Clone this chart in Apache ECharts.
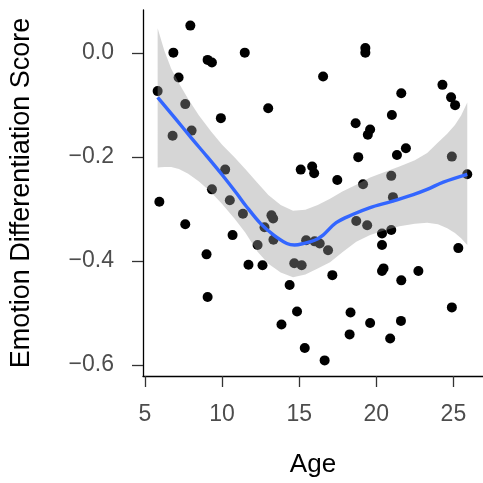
<!DOCTYPE html>
<html><head><meta charset="utf-8">
<script src="https://cdn.jsdelivr.net/npm/echarts@6/dist/echarts.min.js"></script>
<style>html,body{margin:0;padding:0;background:#fff}#c{width:483px;height:483px}</style>
</head><body><div id="c"></div>
<script>
var age = [7.94,6.84,9.06,9.34,11.47,7.18,5.82,7.61,9.92,8.02,6.79,10.2,9.34,5.93,10.5,7.61,11.35,10.68,12.3,8.99,11.71,9.06,
  19.29,19.29,16.55,12.99,18.66,19.6,19.45,18.83,15.1,15.84,15.97,17.47,19.14,21.62,24.29,24.85,25.11,21.01,21.92,21.34,24.9,20.97,25.9,
  21.08,19.41,20.37,20.97,20.37,25.32,20.47,20.37,22.73,21.62,24.9,19.6,21.6,20.9,
  13.2,13.31,12.75,13.33,12.62,14.68,15.16,15.45,16.0,16.33,16.87,18.7,17.15,14.38,14.86,18.33,13.85,18.27,15.36,16.65];
var score = [0.053,0.001,-0.013,-0.018,0.001,-0.047,-0.073,-0.098,-0.125,-0.149,-0.159,-0.224,-0.262,-0.286,-0.283,-0.329,-0.309,-0.350,-0.369,-0.387,-0.407,-0.469,
  0.010,0.001,-0.045,-0.106,-0.135,-0.147,-0.157,-0.200,-0.224,-0.218,-0.231,-0.244,-0.252,-0.077,-0.061,-0.085,-0.100,-0.119,-0.183,-0.196,-0.199,-0.236,-0.233,
  -0.277,-0.331,-0.347,-0.340,-0.369,-0.375,-0.414,-0.419,-0.419,-0.437,-0.489,-0.519,-0.515,-0.549,
  -0.312,-0.318,-0.335,-0.359,-0.408,-0.404,-0.408,-0.360,-0.362,-0.366,-0.379,-0.323,-0.427,-0.446,-0.497,-0.499,-0.522,-0.541,-0.567,-0.591];

var smoothAge = [5.82,7,8,9,10,11,11.5,12.5,13.35,14.2,14.7,15.3,16,16.55,17.4,18.5,19.6,20.9,22.4,23.3,24.35,25.9];
var smoothFit = [-0.085,-0.127,-0.163,-0.198,-0.234,-0.272,-0.292,-0.328,-0.350,-0.366,-0.369,-0.366,-0.360,-0.350,-0.326,-0.310,-0.297,-0.286,-0.272,-0.262,-0.248,-0.233];

var bandAge = [5.82,6.25,6.7,7.2,7.8,8.5,9.3,10.0,10.8,11.5,12.3,13.0,13.8,14.6,15.4,16.2,17.0,17.8,18.7,19.6,20.5,21.5,22.5,23.3,24.0,24.6,25.1,25.5,25.9];
var bandUpper = [0.048,0.005,-0.030,-0.058,-0.088,-0.120,-0.151,-0.176,-0.200,-0.223,-0.250,-0.273,-0.292,-0.303,-0.301,-0.292,-0.280,-0.266,-0.253,-0.239,-0.229,-0.218,-0.206,-0.192,-0.172,-0.155,-0.138,-0.120,-0.095];
var bandLower = [-0.220,-0.219,-0.219,-0.223,-0.232,-0.247,-0.268,-0.290,-0.318,-0.345,-0.382,-0.405,-0.422,-0.431,-0.426,-0.414,-0.402,-0.383,-0.363,-0.350,-0.341,-0.333,-0.328,-0.326,-0.329,-0.337,-0.346,-0.356,-0.369];

var xTicks = [5,10,15,20,25];
var yTicks = [-0.6,-0.4,-0.2,0.0];
var yTickLabels = ['\u22120.6','\u22120.4','\u22120.2','0.0'];

var pts = age.map(function(a,i){return [a, score[i]];});
var fitPts = smoothAge.map(function(a,i){return [a, smoothFit[i]];});

var chart = echarts.init(document.getElementById('c'), null, {renderer:'canvas'});
var font = 'Liberation Sans, Arial, Helvetica, sans-serif';
chart.setOption({
  animation:false,
  backgroundColor:'#ffffff',
  grid:{left:142, right:0, top:10, bottom:107},
  xAxis:{
    type:'value', min:4.87, max:26.92,
    name:'Age', nameLocation:'middle', nameGap:76,
    nameTextStyle:{color:'#000', fontSize:26, fontFamily:font},
    axisLine:{show:true, onZero:false, lineStyle:{color:'#000', width:1.3}},
    axisTick:{show:true, customValues:xTicks, length:11, lineStyle:{color:'#333', width:1.3}},
    axisLabel:{customValues:xTicks, color:'#4d4d4d', fontSize:23, fontFamily:font, margin:27},
    splitLine:{show:false}
  },
  yAxis:{
    type:'value', min:-0.621, max:0.083,
    name:'Emotion Differentiation Score', nameLocation:'middle', nameGap:108, nameRotate:90,
    nameTextStyle:{color:'#000', fontSize:27, fontFamily:font},
    axisLine:{show:true, onZero:false, lineStyle:{color:'#000', width:1.3}},
    axisTick:{show:true, customValues:yTicks, length:11, lineStyle:{color:'#333', width:1.3}},
    axisLabel:{customValues:yTicks, color:'#4d4d4d', fontSize:23, fontFamily:font, margin:29,
      formatter:function(v){var i=yTicks.findIndex(function(t){return Math.abs(t-v)<1e-9;});return i>=0?yTickLabels[i]:'';}},
    splitLine:{show:false}
  },
  series:[
    {type:'scatter', data:pts, symbol:'circle', symbolSize:10, itemStyle:{color:'#000', opacity:1}, z:2, silent:true},
    {type:'custom', data:[0], z:3, silent:true, clip:true,
      renderItem:function(params, api){
        var p=[];
        for(var i=0;i<bandAge.length;i++){p.push(api.coord([bandAge[i], bandUpper[i]]));}
        for(var j=bandAge.length-1;j>=0;j--){p.push(api.coord([bandAge[j], bandLower[j]]));}
        return {type:'polygon', shape:{points:p}, style:{fill:'rgba(153,153,153,0.4)'}};
      }},
    {type:'line', data:fitPts, showSymbol:false, smooth:0.35, z:4, silent:true,
      lineStyle:{color:'#3366FF', width:3.4}}
  ]
});
</script></body></html>
